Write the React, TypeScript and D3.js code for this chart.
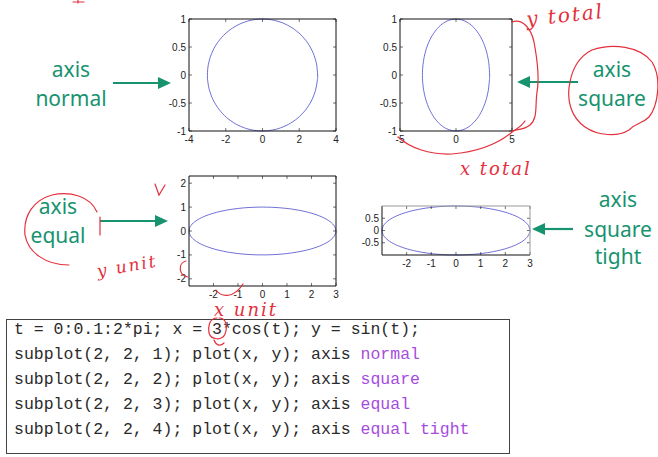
import React from "react";
import * as d3 from "d3";

// Ellipse samples (x = 3cos t, y = sin t) read as points
const XS = [3, 2.94, 2.763, 2.476, 2.09, 1.621, 1.087, 0.51, -0.088, -0.682, -1.248, -1.766, -2.212, -2.571, -2.827, -2.97, -2.995, -2.9, -2.69, -2.373, -1.961, -1.471, -0.922, -0.337, 0.262, 0.851, 1.405, 1.904, 2.327, 2.657, 2.881, 2.99];
const YS = [0, 0.199, 0.389, 0.565, 0.717, 0.841, 0.932, 0.985, 1.0, 0.974, 0.909, 0.808, 0.675, 0.516, 0.335, 0.141, -0.058, -0.256, -0.443, -0.612, -0.757, -0.872, -0.952, -0.994, -0.996, -0.959, -0.883, -0.773, -0.631, -0.465, -0.279, -0.083];

const X_TICKS_1 = [-4, -2, 0, 2, 4];
const Y_TICKS_1 = [-1, -0.5, 0, 0.5, 1];
const X_TICKS_2 = [-5, 0, 5];
const Y_TICKS_2 = [-1, -0.5, 0, 0.5, 1];
const X_TICKS_3 = [-2, -1, 0, 1, 2, 3];
const Y_TICKS_3 = [-2, -1, 0, 1, 2];
const X_TICKS_4 = [-2, -1, 0, 1, 2, 3];
const Y_TICKS_4 = [-0.5, 0, 0.5];

const CODE_LINES = [
  [["t = 0:0.1:2*pi; x = 3*cos(t); y = sin(t);", "#2a2a2a"]],
  [["subplot(2, 2, 1); plot(x, y); axis ", "#2a2a2a"], ["normal", "#a64be0"]],
  [["subplot(2, 2, 2); plot(x, y); axis ", "#2a2a2a"], ["square", "#a64be0"]],
  [["subplot(2, 2, 3); plot(x, y); axis ", "#2a2a2a"], ["equal", "#a64be0"]],
  [["subplot(2, 2, 4); plot(x, y); axis ", "#2a2a2a"], ["equal tight", "#a64be0"]],
];

const panels = [
  { x0: 189, x1: 336, y0: 19, y1: 131, xd: [-4, 4], yd: [-1, 1], xt: X_TICKS_1, yt: Y_TICKS_1 },
  { x0: 400, x1: 512, y0: 19, y1: 131, xd: [-5, 5], yd: [-1, 1], xt: X_TICKS_2, yt: Y_TICKS_2 },
  { x0: 189, x1: 336, y0: 176, y1: 286, xd: [-2.9987, 3], yd: [-2.3, 2.3], xt: X_TICKS_3, yt: Y_TICKS_3 },
  { x0: 382, x1: 530, y0: 206, y1: 255, xd: [-2.9987, 3], yd: [-0.9996, 0.9996], xt: X_TICKS_4, yt: Y_TICKS_4 },
];

const GREEN = "#17936f";
const RED = "#e3303c";

function Panel({ p, light }: any) {
  const xs = d3.scaleLinear().domain(p.xd).range([p.x0, p.x1]);
  const ys = d3.scaleLinear().domain(p.yd).range([p.y1, p.y0]);
  const pts: [number, number][] = XS.map((v, i) => [xs(v), ys(YS[i])]);
  const line = d3.line().curve(d3.curveCardinalClosed.tension(0.2));
  const tl = 3;
  return (
    <g>
      <rect x={p.x0} y={p.y0} width={p.x1 - p.x0} height={p.y1 - p.y0} fill="#fff" />
      <path d={line(pts) || ""} fill="none" stroke="#4a4acb" strokeWidth={0.8} />
      {p.xt.map((t: number) => (
        <g key={"x" + t}>
          <line x1={xs(t)} x2={xs(t)} y1={p.y1} y2={p.y1 - tl} stroke="#333" strokeWidth={0.7} />
          <line x1={xs(t)} x2={xs(t)} y1={p.y0} y2={p.y0 + tl} stroke="#333" strokeWidth={0.7} />
          <text x={xs(t)} y={p.y1 + 12} fontSize={10} textAnchor="middle" fontFamily="Liberation Sans, Arial, sans-serif" fill="#222">{t}</text>
        </g>
      ))}
      {p.yt.map((t: number) => (
        <g key={"y" + t}>
          <line x1={p.x0} x2={p.x0 + tl} y1={ys(t)} y2={ys(t)} stroke="#333" strokeWidth={0.7} />
          <line x1={p.x1} x2={p.x1 - tl} y1={ys(t)} y2={ys(t)} stroke="#333" strokeWidth={0.7} />
          <text x={p.x0 - 3} y={ys(t) + 3.5} fontSize={10} textAnchor="end" fontFamily="Liberation Sans, Arial, sans-serif" fill="#222">{t}</text>
        </g>
      ))}
      <line x1={p.x0} x2={p.x1} y1={p.y1} y2={p.y1} stroke="#111" strokeWidth={1} />
      <line x1={p.x0} x2={p.x0} y1={p.y0} y2={p.y1} stroke="#111" strokeWidth={1} />
      <line x1={p.x0} x2={p.x1} y1={p.y0} y2={p.y0} stroke={light ? "#999" : "#111"} strokeWidth={1} />
      <line x1={p.x1} x2={p.x1} y1={p.y0} y2={p.y1} stroke={light ? "#999" : "#111"} strokeWidth={1} />
    </g>
  );
}

function Arrow({ x1, x2, y }: any) {
  const dir = x2 > x1 ? 1 : -1;
  const hx = x2 - dir * 13;
  return (
    <g>
      <line x1={x1} x2={hx} y1={y} y2={y} stroke={GREEN} strokeWidth={2.2} />
      <path d={`M${x2},${y} L${hx},${y - 6} L${hx},${y + 6} Z`} fill={GREEN} />
    </g>
  );
}

function Label({ lines, cx, ys }: any) {
  return (
    <g>
      {lines.map((l: string, i: number) => (
        <text key={i} x={cx} y={ys[i]} fontSize={21} textAnchor="middle" fontFamily="Noto Sans, Open Sans, sans-serif" fill={GREEN}>{l}</text>
      ))}
    </g>
  );
}

export default function App() {
  const hand = { fill: RED, fontFamily: "DejaVu Serif, serif", fontStyle: "italic", letterSpacing: 2 } as any;
  return (
    <svg width={658} height={457} style={{ position: "absolute", left: 0, top: 0, background: "#fff" }}>
      <rect width={658} height={457} fill="#fff" />
      {panels.map((p, i) => <Panel key={i} p={p} light={i === 3} />)}

      <Label lines={["axis", "normal"]} cx={71} ys={[77, 106]} />
      <Arrow x1={113} x2={171} y={83} />
      <Label lines={["axis", "square"]} cx={612} ys={[77, 106]} />
      <Arrow x1={578} x2={517} y={82} />
      <Label lines={["axis", "equal"]} cx={58} ys={[214, 243]} />
      <Arrow x1={100} x2={168} y={221} />
      <Label lines={["axis", "square", "tight"]} cx={618} ys={[207, 237, 264]} />
      <Arrow x1={573} x2={532} y={229} />

      {/* code box */}
      <rect x={6.5} y={319.5} width={503} height={134} fill="#fff" stroke="#444" strokeWidth={1} />
      {CODE_LINES.map((segs, i) => (
        <text key={i} x={14} y={334 + i * 25} fontSize={16.5} fontFamily="Liberation Mono, Courier New, monospace" style={{ whiteSpace: "pre" }}>
          {segs.map((s, j) => <tspan key={j} fill={s[1]}>{s[0]}</tspan>)}
        </text>
      ))}

      {/* red handwriting */}
      <g fill="none" stroke={RED} strokeWidth={1.2} strokeLinecap="round">
        <path d="M73,2 L84,2 M78,0 L78,3" />
        <path d="M512,22 C522,18 531,28 534,42 C537,58 540,76 537,92 C535,106 538,118 530,125 C524,130 518,129 512,131" />
        <path d="M398,137 C410,148 430,155 452,154 C476,152 496,145 511,133 C516,129 521,127 525,121" />
        <path d="M592,50 C612,43 640,46 652,62 C662,78 658,106 649,117 C642,124 637,122 629,130 C618,137 598,136 585,127 C571,117 566,100 570,82 C573,66 580,56 592,50" />
        <path d="M97,212 C90,196 70,191 52,195 C34,200 23,215 25,235 C28,252 45,265 69,265 M100,217 L100,235" />
        <path d="M155,184 L159,195 L165,185" />
        <path d="M186,261 C178,263 178,275 188,277" />
        <path d="M216,290 C222,298 234,298 243,284" />
        <path d="M217,318 C209,318 208,327 209,333 C211,340 222,341 225,334 C228,326 226,318 219,318 M214,340 C216,345 220,347 224,343" />
      </g>
      <text x={527} y={26} fontSize={20} transform="rotate(-6 527 26)" {...hand}>y total</text>
      <text x={460} y={175} fontSize={18} {...hand}>x total</text>
      <text x={98} y={277} fontSize={17} transform="rotate(-10 98 277)" {...hand}>y unit</text>
      <text x={214} y={316} fontSize={18} {...hand}>x unit</text>
    </svg>
  );
}
